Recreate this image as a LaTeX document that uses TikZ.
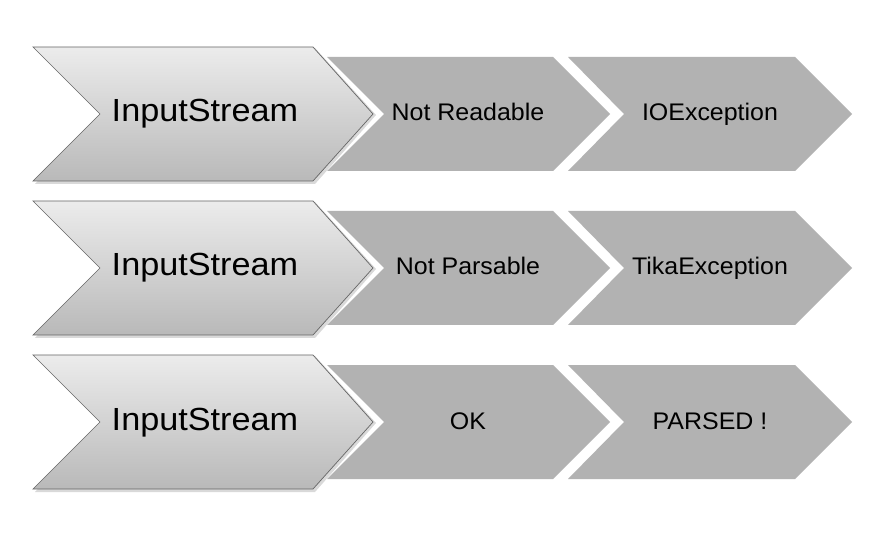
\documentclass[tikz,border=0pt]{standalone}
\usepackage{fontspec}
\setmainfont{Liberation Sans}
\begin{document}
\begin{tikzpicture}[x=1pt,y=-1pt,
  bigtext/.style={font=\fontsize{32}{36}\selectfont, xscale=1.07, anchor=base},
  smalltext/.style={font=\fontsize{24}{28}\selectfont, xscale=1.04, anchor=base},
  bigfill/.style={top color=gray!15, bottom color=gray!55, draw=gray!80!black, line width=0.7pt},
  smallfill/.style={fill=black!30, draw=none}]
\useasboundingbox (0,0) rectangle (873,537);
\fill[white] (0,0) rectangle (873,537);
\foreach \c/\a/\b/\n in {114/Not Readable/IOException/1, 268/Not Parsable/TikaException/2, 422/OK/PARSED !/3}{
  % small chevrons
  \fill[smallfill] (327,\c-57) -- (553,\c-57) -- (610,\c) -- (553,\c+57) -- (327,\c+57) -- (384,\c) -- cycle;
  \fill[smallfill] (568,\c-57) -- (795,\c-57) -- (852,\c) -- (795,\c+57) -- (568,\c+57) -- (624,\c) -- cycle;
  % shadow of big chevron
  \fill[black, opacity=0.15] (35,\c-66) -- (315,\c-66) -- (376,\c+1) -- (315,\c+70) -- (35,\c+70) -- (102,\c+1) -- cycle;
  % big chevron
  \path[bigfill] (33,\c-67) -- (313,\c-67) -- (373,\c) -- (313,\c+67) -- (33,\c+67) -- (100,\c) -- cycle;
  \node[bigtext] (big\n) at (205,\c+8) {InputStream};
  \node[smalltext] (mid\n) at (468,\c+7) {\a};
  \node[smalltext] (end\n) at (710,\c+7) {\b};
}
\end{tikzpicture}
\end{document}
